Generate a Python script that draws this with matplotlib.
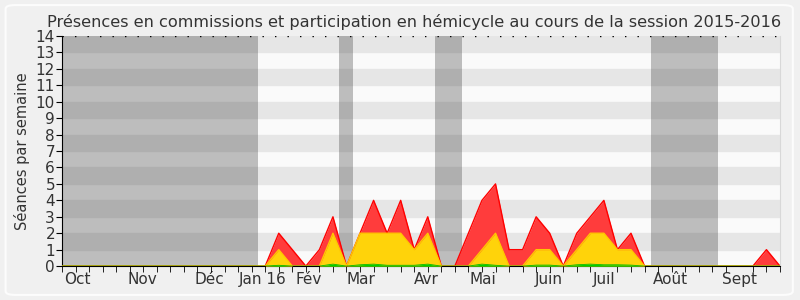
import numpy as np
import matplotlib
matplotlib.use("Agg")
import matplotlib.pyplot as plt
from matplotlib.patches import FancyBboxPatch

# semaines de la session (index 0..53)
weeks = np.arange(54)
red_vals = [0]*16 + [2, 1, 0, 1, 3, 0, 2, 4, 2, 4, 1, 3, 0, 0, 2, 4, 5, 1, 1, 3,
                     2, 0, 2, 3, 4, 1, 2, 0, 0, 0, 0, 0, 0, 0, 0, 0, 1, 0]
yellow_vals = [0]*16 + [1, 0, 0, 0, 2, 0, 2, 2, 2, 2, 1, 2, 0, 0, 0, 1, 2, 0, 0, 1,
                        1, 0, 1, 2, 2, 1, 1, 0, 0, 0, 0, 0, 0, 0, 0, 0, 0, 0]
green_vals = [0]*16 + [0.05, 0, 0, 0, 0.12, 0, 0.08, 0.12, 0.05, 0.05, 0.05, 0.12, 0, 0,
                       0, 0.12, 0.05, 0, 0, 0.06, 0.06, 0, 0.08, 0.12, 0.08, 0.08, 0.06,
                       0, 0, 0, 0, 0, 0, 0, 0, 0, 0, 0]
month_pos = [1.1, 5.95, 10.9, 14.8, 18.2, 22.1, 26.9, 31.1, 35.9, 40.0, 44.9, 50.0]
month_labels = ["Oct", "Nov", "Déc", "Jan 16", "Fév", "Mar", "Avr", "Mai",
                "Juin", "Juil", "Août", "Sept"]
vacances = [(0, 14.45), (20.45, 21.45), (27.5, 29.5), (43.5, 48.45)]

fig = plt.figure(figsize=(8, 3), dpi=100, facecolor="#f0f0f0")
fig.patches.append(FancyBboxPatch((0.007, 0.017), 0.984, 0.966,
                                  boxstyle="round,pad=0,rounding_size=0.012",
                                  transform=fig.transFigure, facecolor="none",
                                  edgecolor="#fcfcfc", lw=1.5, zorder=0))
ax = fig.add_axes([0.0775, 0.113, 0.8975, 0.767])
ax.set_facecolor("#fafafa")

# bandes horizontales
for y in range(1, 14, 2):
    ax.axhspan(y, y + 1, color="#e6e6e6", zorder=0)
# vacances parlementaires
for a, b in vacances:
    ax.axvspan(a, b, color="#323232", alpha=0.3, lw=0, zorder=1)

ax.fill_between(weeks, red_vals, color="#ff3c3c", lw=0, zorder=2)
ax.plot(weeks, red_vals, color="#ff0000", lw=1, zorder=3)
ax.fill_between(weeks, yellow_vals, color="#ffd30a", lw=0, zorder=4)
ax.plot(weeks, yellow_vals, color="#ffc800", lw=1, zorder=5)
ax.fill_between(weeks, green_vals, color="#00d000", lw=0, zorder=6)
ax.plot(weeks, green_vals, color="#00bb00", lw=0.6, zorder=7)

ax.axhline(14, color="black", lw=1, ls=(0, (1, 8)), zorder=8)

ax.set_xlim(0, 53)
ax.set_ylim(0, 14)
ax.set_yticks(range(15))
ax.set_xticks(month_pos)
ax.set_xticklabels(month_labels)
ax.set_xticks(weeks, minor=True)
ax.tick_params(axis="x", which="major", length=0, pad=4, labelsize=11, colors="#333333")
ax.tick_params(axis="x", which="minor", length=4, color="black")
ax.tick_params(axis="y", length=4, pad=1, labelsize=11, colors="#333333")
ax.tick_params(axis="both", which="both", color="black")
ax.spines["top"].set_visible(False)
ax.spines["right"].set_color("#d8d8d8")
ax.set_ylabel("Séances par semaine", fontsize=10.5, color="#333333", labelpad=4)
fig.text(0.517, 0.91,
         "Présences en commissions et participation en hémicycle au cours de la session 2015-2016",
         fontsize=11.6, color="#333333", ha="center", va="baseline")

fig.savefig("out.png", dpi=100, facecolor=fig.get_facecolor())
